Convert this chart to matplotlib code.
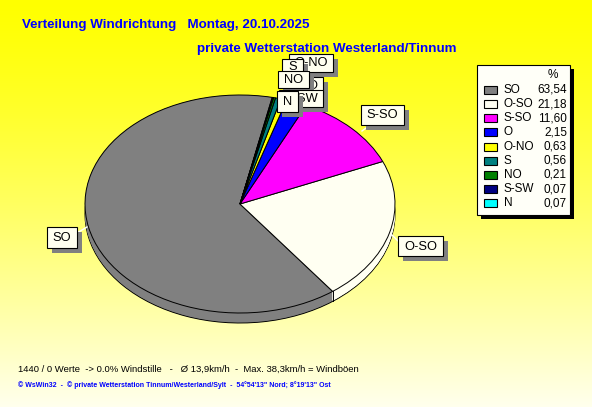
import numpy as np
import matplotlib
matplotlib.use("Agg")
import matplotlib.pyplot as plt
from matplotlib.patches import Rectangle

plt.rcParams['font.family'] = ['Liberation Sans', 'DejaVu Sans']

# data
directions = ["SO", "O-SO", "S-SO", "O", "O-NO", "S", "NO", "S-SW", "N"]
percent = [63.54, 21.18, 11.60, 2.15, 0.63, 0.56, 0.21, 0.07, 0.07]
percent_labels = ["63,54", "21,18", "11,60", "2,15", "0,63", "0,56", "0,21", "0,07", "0,07"]
colors = ["#808080", "#FFFFF2", "#FF00FF", "#0000FF", "#FFFF00",
          "#008080", "#008000", "#000080", "#00FFFF"]

title1 = "Verteilung Windrichtung   Montag, 20.10.2025"
title2 = "private Wetterstation Westerland/Tinnum"
info1 = "1440 / 0 Werte  -> 0.0% Windstille   -   \u00d8 13,9km/h  -  Max. 38,3km/h = Windb\u00f6en"
info2 = "\u00a9 WsWin32  -  \u00a9 private Wetterstation Tinnum/Westerland/Sylt  -  54\u00b054'13\" Nord; 8\u00b019'13\" Ost"

W, H = 592, 407
fig = plt.figure(figsize=(W / 100, H / 100), dpi=100)


def fx(x):
    return x / W


def fy(y):
    return 1 - y / H


# background gradient
bg = fig.add_axes([0, 0, 1, 1], zorder=-5)
t = np.linspace(0, 1, 256)[:, None]
grad = np.zeros((256, 2, 3))
grad[..., 0] = 1.0
grad[..., 1] = 1.0
grad[..., 2] = (t ** 1.3 * 0.93)[:, 0][:, None]
bg.imshow(grad, aspect="auto", extent=[0, 1, 0, 1])
bg.axis("off")

# pie axes: centre (240,204), rx 155, ry 109 px
cx, cy, rx, ry = 240, 204, 155, 109
lim = 1.5
ax = fig.add_axes([fx(cx - lim * rx), fy(cy + lim * ry), 2 * lim * rx / W, 2 * lim * ry / H])
depth = 10 / ry
start = 78
n_layers = 12
for k in range(n_layers + 1):
    off = -depth * (1 - k / n_layers)
    edge = "black" if k == 0 else "none"
    ax.pie(percent, colors=colors, startangle=start, center=(0, off),
           wedgeprops=dict(edgecolor=edge, linewidth=0.7))
wedges, _ = ax.pie(percent, colors=colors, startangle=start,
                   wedgeprops=dict(edgecolor="black", linewidth=0.7))
# vertical edge at front boundary SO / O-SO
th = np.deg2rad(wedges[0].theta2)
ax.plot([np.cos(th)] * 2, [np.sin(th), np.sin(th) - depth], color="black", lw=0.7)
ax.set_aspect("auto")
ax.set_xlim(-lim, lim)
ax.set_ylim(-lim, lim)
ax.axis("off")

# label boxes (x0, x1, y0, y1) in px, drawn back to front
label_boxes = {
    "O-NO": (289, 333, 54, 72),
    "S": (282, 303, 59, 75),
    "O": (302, 323, 77, 94),
    "NO": (278, 309, 71, 88),
    "S-SW": (279, 323, 90, 107),
    "N": (277, 298, 91, 112),
    "S-SO": (361, 404, 105, 125),
    "O-SO": (398, 443, 236, 256),
    "SO": (47, 77, 227, 248),
}
leaders = {"SO": ((77, 233), (87, 227)), "O-SO": ((398, 241), (392, 235)),
           "S-SO": ((370, 125), (362, 131))}
for name, (p0, p1) in leaders.items():
    fig.add_artist(plt.Line2D([fx(p0[0]), fx(p1[0])], [fy(p0[1]), fy(p1[1])],
                              color="white", lw=1, zorder=2))

z = 3
for name, (x0, x1, y0, y1) in label_boxes.items():
    fig.add_artist(Rectangle((fx(x0 + 5), fy(y1 + 5)), fx(x1 - x0), (y1 - y0) / H,
                             facecolor="#808080", edgecolor="none", zorder=z))
    fig.add_artist(Rectangle((fx(x0), fy(y1)), fx(x1 - x0), (y1 - y0) / H,
                             facecolor="#FFFFF0", edgecolor="black", lw=0.8, zorder=z + 0.1))
    fig.text(fx((x0 + x1) / 2), fy((y0 + y1) / 2 + 0.5), name, ha="center", va="center",
             fontsize=9.3, color="black", zorder=z + 0.2)
    z += 0.3

# legend
lx0, lx1, ly0, ly1 = 477, 570, 65, 215
fig.add_artist(Rectangle((fx(lx0 + 4), fy(ly1 + 4)), fx(lx1 - lx0), (ly1 - ly0) / H,
                         facecolor="black", edgecolor="none", zorder=6))
fig.add_artist(Rectangle((fx(lx0), fy(ly1)), fx(lx1 - lx0), (ly1 - ly0) / H,
                         facecolor="#FFFFF8", edgecolor="black", lw=0.8, zorder=6.1))
fig.text(fx(553), fy(75), "%", ha="center", va="center", fontsize=8.5, zorder=7)
for i, (name, val, col) in enumerate(zip(directions, percent_labels, colors)):
    yy = 90 + i * 14.15
    fig.add_artist(Rectangle((fx(484), fy(yy + 4)), fx(13), 8 / H,
                             facecolor=col, edgecolor="black", lw=0.8, zorder=7))
    fig.text(fx(504), fy(yy), name, ha="left", va="center", fontsize=8.5, zorder=7)
    fig.text(fx(567), fy(yy), val, ha="right", va="center", fontsize=8.5, zorder=7)

# titles
fig.text(fx(22), fy(25), title1, ha="left", va="center", fontsize=9.6,
         fontweight="bold", color="#0000FF")
fig.text(fx(197), fy(49), title2, ha="left", va="center", fontsize=9.6,
         fontweight="bold", color="#0000FF")
fig.text(fx(18), fy(369), info1, ha="left", va="center", fontsize=6.8, color="black")
fig.text(fx(18), fy(385), info2, ha="left", va="center", fontsize=5.0,
         fontweight="bold", color="#0000FF")

fig.savefig("out.png", dpi=100)
